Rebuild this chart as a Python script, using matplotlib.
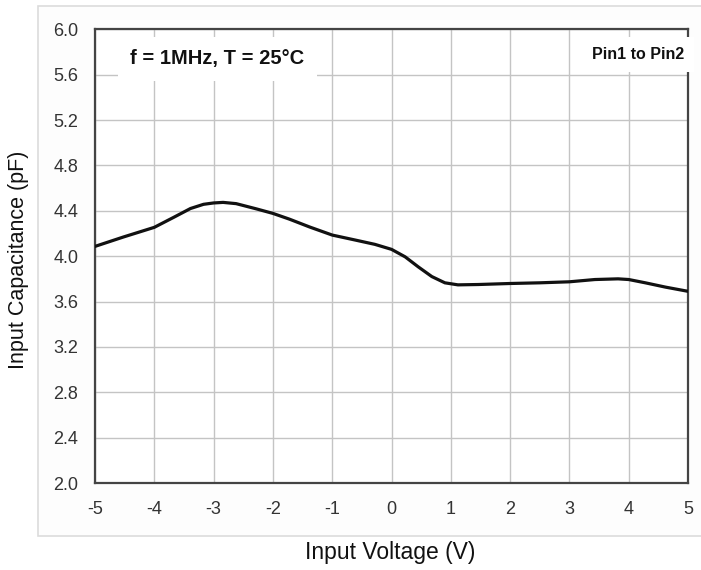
import numpy as np
import matplotlib.pyplot as plt
from matplotlib.patches import Rectangle

plt.rcParams['font.family'] = ['Liberation Sans', 'DejaVu Sans']

# curve
voltage = [-5, -4.52, -4, -3.67, -3.39, -3.17, -3, -2.84, -2.62, -2.28, -2, -1.72,
           -1.38, -1, -0.62, -0.28, 0, 0.23, 0.45, 0.68, 0.9, 1.12, 1.46, 2, 2.5,
           3, 3.43, 3.82, 4, 4.28, 4.62, 5]
capacitance = [4.086, 4.169, 4.254, 4.343, 4.42, 4.457, 4.469, 4.474, 4.463, 4.417, 4.377, 4.326,
               4.257, 4.186, 4.143, 4.104, 4.06, 3.994, 3.906, 3.82, 3.765, 3.747, 3.75, 3.759, 3.765,
               3.774, 3.794, 3.80, 3.794, 3.765, 3.727, 3.69]

x_ticks = [-5, -4, -3, -2, -1, 0, 1, 2, 3, 4, 5]
y_ticks = [2.0, 2.4, 2.8, 3.2, 3.6, 4.0, 4.4, 4.8, 5.2, 5.6, 6.0]

fig = plt.figure(figsize=(7.01, 5.70), dpi=100)

# light frame around the plot area
fig.patches.append(Rectangle((0.054, 0.06), 0.96, 0.93, transform=fig.transFigure,
                             facecolor='#fdfdfd', edgecolor='#dcdcdc', linewidth=1.2, zorder=-1))

ax = fig.add_axes([0.1355, 0.1526, 0.846, 0.796])
ax.set_facecolor('white')
ax.plot(voltage, capacitance, color='#111111', linewidth=2.3, solid_joinstyle='round',
        solid_capstyle='round', zorder=3)

ax.set_xlim(-5, 5)
ax.set_ylim(2.0, 6.0)
ax.set_xticks(x_ticks)
ax.set_xticklabels([str(v) for v in x_ticks])
ax.set_yticks(y_ticks)
ax.set_yticklabels([f'{v:.1f}' for v in y_ticks])
ax.tick_params(length=0, labelsize=13, labelcolor='#333333')
ax.tick_params(axis='y', pad=12)
ax.tick_params(axis='x', pad=13)
ax.grid(True, color='#c4c4c4', linewidth=1.0)
ax.set_axisbelow(True)
for s in ax.spines.values():
    s.set_color('#444444')
    s.set_linewidth(1.6)

ax.text(0.206, 0.935, 'f = 1MHz, T = 25\u00b0C', transform=ax.transAxes, fontsize=14.5,
        fontweight='bold', ha='center', va='center', color='#111111',
        bbox=dict(facecolor='white', edgecolor='none', pad=9), zorder=4)
ax.text(0.993, 0.944, 'Pin1 to Pin2', transform=ax.transAxes, fontsize=11.5,
        fontweight='bold', ha='right', va='center', color='#111111',
        bbox=dict(facecolor='white', edgecolor='none', pad=7), zorder=4)

fig.text(0.556, 0.03, 'Input Voltage (V)', ha='center', va='center', fontsize=16.5, color='#111111')
fig.text(0.027, 0.544, 'Input Capacitance (pF)', ha='center', va='center', rotation=90,
         fontsize=15.5, color='#111111')

fig.savefig('out.png', dpi=100)
